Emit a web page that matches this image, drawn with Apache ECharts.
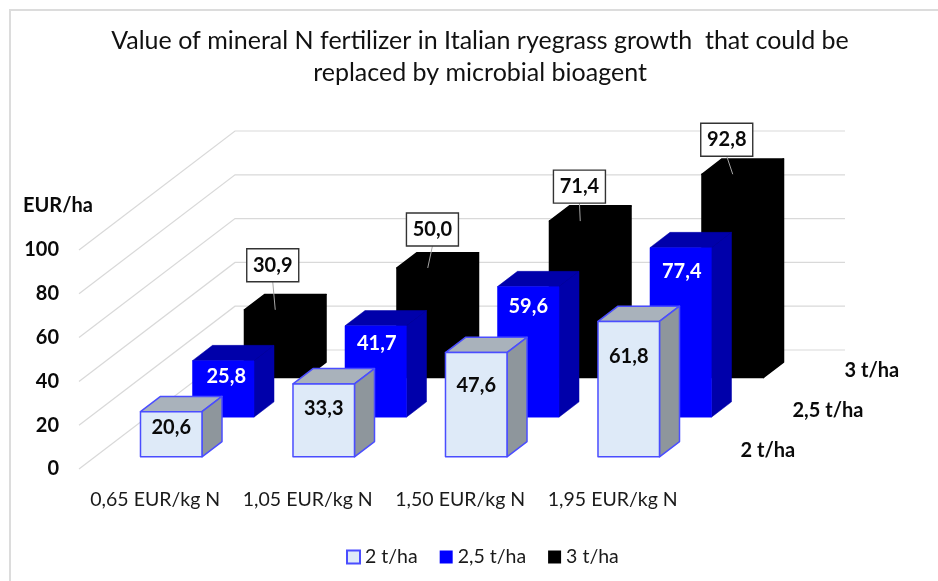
<!DOCTYPE html>
<html><head><meta charset="utf-8">
<style>html,body{margin:0;padding:0;background:#fff}#c{width:938px;height:581px}</style>
<script src="https://cdn.jsdelivr.net/npm/echarts@6/dist/echarts.min.js"></script>
</head><body><div id="c"></div>
<script>
const categories = ['0,65 EUR/kg N','1,05 EUR/kg N','1,50 EUR/kg N','1,95 EUR/kg N'];
const seriesNames = ['2 t/ha','2,5 t/ha','3 t/ha'];
const values2 = [20.6,33.3,47.6,61.8];
const values25 = [25.8,41.7,59.6,77.4];
const values3 = [30.9,50.0,71.4,92.8];
const yTicks = [0,20,40,60,80,100];

// layout of the oblique projection (pixels)
const DEPTH = {x:156, y:-119};     // whole floor depth
const WALL_W = 610;
const BAR_W = 61.5;
const ROW_FILL = 0.385;            // part of a row's depth taken by a bar
const labelDrop = {0:[16,25,33,35], 1:[16,18,20,24]};
const labelShiftX = {0:[0,0,0,0], 1:[3,1,0,1]};
const boxShift = {dx:[-2.5,4.7,-0.8,-6], up:[28,22,18,18]};

const fmt = v => v.toFixed(1).replace('.',',');
const FONT = 'Lato, Carlito, sans-serif';
const BOLD = 'bold 20px '+FONT;

function depthAt(t){ return {x:DEPTH.x*t, y:DEPTH.y*t}; }

const looks = [
  {front:'#deeaf8', top:'#a9b2bb', side:'#8e969c', stroke:'#4a4dff', lw:1.5, text:'#0a0a0a'},
  {front:'#0000ff', top:'#0000aa', side:'#0000aa', stroke:null, lw:0.5, text:'#fff'},
  {front:'#000000', top:'#000000', side:'#000000', stroke:null, lw:1.5, text:'#0a0a0a'}
];

function barItem(row){
  return function(params, api){
    const k = api.value(0), v = api.value(1);
    const base = api.coord([k,0]), head = api.coord([k,v]);
    const look = looks[row];
    const t0 = (row + (1-ROW_FILL)/2)/3, t1 = t0 + ROW_FILL/3;
    const d0 = depthAt(t0), d1 = depthAt(t1);
    const ddx = d1.x-d0.x, ddy = d1.y-d0.y;
    const xL = base[0]+d0.x-BAR_W/2, xR = xL+BAR_W;
    const yB = base[1]+d0.y, yT = head[1]+d0.y;
    const st = (fill)=>({fill, stroke:look.stroke||fill, lineWidth:look.lw, lineJoin:'round'});
    const poly = (pts,fill)=>({type:'polygon',shape:{points:pts},style:st(fill)});
    const kids = [
      poly([[xL,yT],[xR,yT],[xR+ddx,yT+ddy],[xL+ddx,yT+ddy]],look.top),
      poly([[xR,yT],[xR+ddx,yT+ddy],[xR+ddx,yB+ddy],[xR,yB]],look.side),
      poly([[xL,yT],[xR,yT],[xR,yB],[xL,yB]],look.front)
    ];
    const cx = (xL+xR)/2;
    if(row<2){
      kids.push({type:'text',style:{x:cx+labelShiftX[row][k],y:yT+labelDrop[row][k],text:fmt(v),align:'center',verticalAlign:'middle',
        font:BOLD,fill:look.text}});
    }else{
      const bx = cx+boxShift.dx[k], by = yT-boxShift.up[k];
      kids.push({type:'line',shape:{x1:bx,y1:by,x2:cx,y2:yT},style:{stroke:'#a6a6a6',lineWidth:1}});
      kids.push({type:'rect',shape:{x:bx-26,y:by-33,width:52,height:33},style:{fill:'#fff',stroke:'#333',lineWidth:1.4}});
      kids.push({type:'text',style:{x:bx,y:by-16.5,text:fmt(v),align:'center',verticalAlign:'middle',
        font:BOLD,fill:look.text}});
    }
    return {type:'group',children:kids};
  };
}

function gridItem(params, api){
  const v = api.value(0);
  const p = api.coord([0,v]);
  const cs = params.coordSys;
  const x0 = cs.x, y = p[1];
  return {type:'polyline',shape:{points:[[x0,y],[x0+DEPTH.x,y+DEPTH.y],[x0+DEPTH.x+WALL_W,y+DEPTH.y]]},
    style:{fill:null,stroke:'#d9d9d9',lineWidth:1.2}};
}

function rowLabelItem(params, api){
  const i = api.value(0);
  const cs = params.coordSys;
  const d = depthAt((i+0.5)/3);
  return {type:'text',style:{x:cs.x+cs.width+d.x+25.5,y:cs.y+cs.height+d.y+1,text:seriesNames[i],align:'left',verticalAlign:'middle',
    font:BOLD,fill:'#0a0a0a'}};
}

const barSeries = (row,vals) => ({
  name:seriesNames[row], type:'custom', coordinateSystem:'cartesian2d', silent:true,
  itemStyle:{color:looks[row].front, borderColor:looks[row].stroke||looks[row].front, borderWidth:row===0?1.5:0},
  encode:{x:0,y:1}, renderItem:barItem(row), z:3+(2-row),
  data:vals.map((v,k)=>[k,v])
});

const chart = echarts.init(document.getElementById('c'),null,{renderer:'canvas'});
chart.setOption({
  animation:false, backgroundColor:'#fff',
  title:{text:'Value of mineral N fertilizer in Italian ryegrass growth  that could be\nreplaced by microbial bioagent',
    left:475, top:20, textAlign:'center',
    textStyle:{fontFamily:FONT,fontWeight:'normal',fontSize:25,lineHeight:32,color:'#111'}},
  graphic:[
    {type:'polyline',shape:{points:[[10,581],[10,10],[938,10]]},style:{fill:null,stroke:'#dcdcdc',lineWidth:2},silent:true},
    {type:'text',style:{x:23,y:206,text:'EUR/ha',font:BOLD,fill:'#0a0a0a',verticalAlign:'middle'},silent:true}
  ],
  grid:{left:79,top:250,width:WALL_W,height:219},
  xAxis:{type:'category',data:categories,axisLine:{show:false},axisTick:{show:false},
    axisLabel:{margin:21,fontFamily:FONT,fontSize:19.5,color:'#1a1a1a',interval:0}},
  yAxis:{type:'value',min:0,max:100,interval:20,axisLine:{show:false},axisTick:{show:false},splitLine:{show:false},
    axisLabel:{margin:20,fontFamily:FONT,fontSize:20,fontWeight:'bold',color:'#0a0a0a'}},
  legend:{data:seriesNames,left:341,top:542,itemWidth:13,itemHeight:13,itemGap:22,icon:'rect',
    textStyle:{fontFamily:FONT,fontSize:19.5,color:'#1a1a1a'}},
  series:[
    {type:'custom',coordinateSystem:'cartesian2d',renderItem:gridItem,encode:{y:0},silent:true,z:1,data:yTicks.map(v=>[v])},
    {type:'custom',coordinateSystem:'cartesian2d',renderItem:rowLabelItem,silent:true,z:2,data:seriesNames.map((n,i)=>[i])},
    barSeries(2,values3), barSeries(1,values25), barSeries(0,values2)
  ]
});
</script></body></html>
